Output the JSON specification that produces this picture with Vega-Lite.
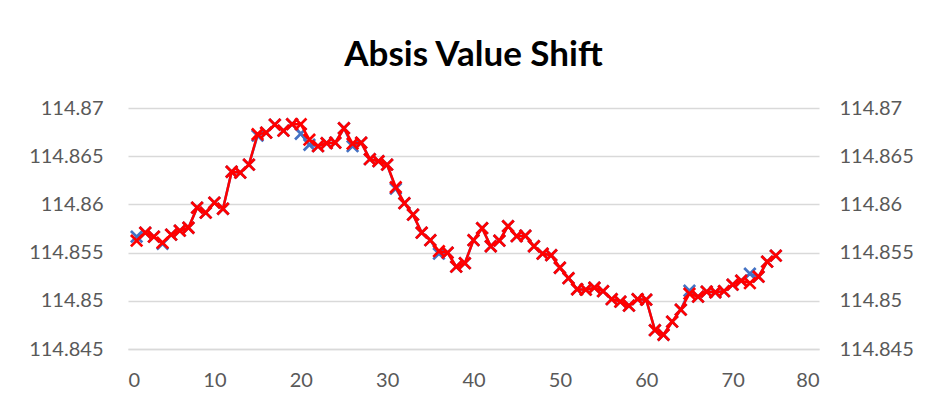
{
  "$schema": "https://vega.github.io/schema/vega-lite/v6.json",
  "width": 691,
  "height": 241,
  "autosize": {"type": "none"},
  "padding": {"left": 128, "top": 108, "right": 106, "bottom": 58},
  "background": "white",
  "title": {"text": "Absis Value Shift", "font": "Lato", "fontSize": 35, "fontWeight": "bold", "color": "#000000", "anchor": "middle", "offset": 25},
  "datasets": {
    "blue": [
      {"x": 1, "y": 114.85665}, {"x": 2, "y": 114.85707}, {"x": 3, "y": 114.85665}, {"x": 4, "y": 114.85592}, {"x": 5, "y": 114.85686},
      {"x": 6, "y": 114.85727}, {"x": 7, "y": 114.85758}, {"x": 8, "y": 114.85966}, {"x": 9, "y": 114.85914}, {"x": 10, "y": 114.86018},
      {"x": 11, "y": 114.85955}, {"x": 12, "y": 114.86339}, {"x": 13, "y": 114.86329}, {"x": 14, "y": 114.86412}, {"x": 15, "y": 114.86713},
      {"x": 16, "y": 114.86744}, {"x": 17, "y": 114.86827}, {"x": 18, "y": 114.86765}, {"x": 19, "y": 114.86832}, {"x": 20, "y": 114.86733},
      {"x": 21, "y": 114.86619}, {"x": 22, "y": 114.86604}, {"x": 23, "y": 114.86635}, {"x": 24, "y": 114.8664}, {"x": 25, "y": 114.8679},
      {"x": 26, "y": 114.86604}, {"x": 27, "y": 114.8664}, {"x": 28, "y": 114.86469}, {"x": 29, "y": 114.86448}, {"x": 30, "y": 114.86412},
      {"x": 31, "y": 114.86163}, {"x": 32, "y": 114.86013}, {"x": 33, "y": 114.85893}, {"x": 34, "y": 114.85707}, {"x": 35, "y": 114.85629},
      {"x": 36, "y": 114.85489}, {"x": 37, "y": 114.85499}, {"x": 38, "y": 114.85354}, {"x": 39, "y": 114.8539}, {"x": 40, "y": 114.85629},
      {"x": 41, "y": 114.85753}, {"x": 42, "y": 114.85566}, {"x": 43, "y": 114.85624}, {"x": 44, "y": 114.85774}, {"x": 45, "y": 114.8567},
      {"x": 46, "y": 114.85675}, {"x": 47, "y": 114.85566}, {"x": 48, "y": 114.85489}, {"x": 49, "y": 114.85473}, {"x": 50, "y": 114.85343},
      {"x": 51, "y": 114.85235}, {"x": 52, "y": 114.8512}, {"x": 53, "y": 114.85115}, {"x": 54, "y": 114.85136}, {"x": 55, "y": 114.851},
      {"x": 56, "y": 114.85017}, {"x": 57, "y": 114.84991}, {"x": 58, "y": 114.84949}, {"x": 59, "y": 114.85017}, {"x": 60, "y": 114.85012},
      {"x": 61, "y": 114.84695}, {"x": 62, "y": 114.84648}, {"x": 63, "y": 114.84783}, {"x": 64, "y": 114.84908}, {"x": 65, "y": 114.85105},
      {"x": 66, "y": 114.85043}, {"x": 67, "y": 114.85095}, {"x": 68, "y": 114.85089}, {"x": 69, "y": 114.851}, {"x": 70, "y": 114.85167},
      {"x": 71, "y": 114.85209}, {"x": 72, "y": 114.85281}, {"x": 73, "y": 114.8525}, {"x": 74, "y": 114.85406}, {"x": 75, "y": 114.85468}
    ],
    "red": [
      {"x": 1, "y": 114.85624}, {"x": 2, "y": 114.85707}, {"x": 3, "y": 114.85665}, {"x": 4, "y": 114.85603}, {"x": 5, "y": 114.85686},
      {"x": 6, "y": 114.85727}, {"x": 7, "y": 114.85758}, {"x": 8, "y": 114.85966}, {"x": 9, "y": 114.85914}, {"x": 10, "y": 114.86018},
      {"x": 11, "y": 114.85955}, {"x": 12, "y": 114.86339}, {"x": 13, "y": 114.86329}, {"x": 14, "y": 114.86412}, {"x": 15, "y": 114.86728},
      {"x": 16, "y": 114.86744}, {"x": 17, "y": 114.86827}, {"x": 18, "y": 114.86765}, {"x": 19, "y": 114.86832}, {"x": 20, "y": 114.86832},
      {"x": 21, "y": 114.86671}, {"x": 22, "y": 114.86604}, {"x": 23, "y": 114.86635}, {"x": 24, "y": 114.8664}, {"x": 25, "y": 114.8679},
      {"x": 26, "y": 114.8663}, {"x": 27, "y": 114.8664}, {"x": 28, "y": 114.86469}, {"x": 29, "y": 114.86448}, {"x": 30, "y": 114.86412},
      {"x": 31, "y": 114.86178}, {"x": 32, "y": 114.86013}, {"x": 33, "y": 114.85893}, {"x": 34, "y": 114.85707}, {"x": 35, "y": 114.85629},
      {"x": 36, "y": 114.85515}, {"x": 37, "y": 114.85499}, {"x": 38, "y": 114.85354}, {"x": 39, "y": 114.8539}, {"x": 40, "y": 114.85629},
      {"x": 41, "y": 114.85753}, {"x": 42, "y": 114.85566}, {"x": 43, "y": 114.85624}, {"x": 44, "y": 114.85774}, {"x": 45, "y": 114.8567},
      {"x": 46, "y": 114.85675}, {"x": 47, "y": 114.85566}, {"x": 48, "y": 114.85489}, {"x": 49, "y": 114.85473}, {"x": 50, "y": 114.85343},
      {"x": 51, "y": 114.85235}, {"x": 52, "y": 114.8512}, {"x": 53, "y": 114.85115}, {"x": 54, "y": 114.85136}, {"x": 55, "y": 114.851},
      {"x": 56, "y": 114.85017}, {"x": 57, "y": 114.84991}, {"x": 58, "y": 114.84949}, {"x": 59, "y": 114.85017}, {"x": 60, "y": 114.85012},
      {"x": 61, "y": 114.84695}, {"x": 62, "y": 114.84648}, {"x": 63, "y": 114.84783}, {"x": 64, "y": 114.84908}, {"x": 65, "y": 114.85074},
      {"x": 66, "y": 114.85043}, {"x": 67, "y": 114.85095}, {"x": 68, "y": 114.85089}, {"x": 69, "y": 114.851}, {"x": 70, "y": 114.85167},
      {"x": 71, "y": 114.85209}, {"x": 72, "y": 114.85183}, {"x": 73, "y": 114.8525}, {"x": 74, "y": 114.85406}, {"x": 75, "y": 114.85468}
    ]
  },
  "layer": [
    {
      "data": {"name": "blue"},
      "mark": {"type": "line", "color": "#4472C4", "strokeWidth": 2.5},
      "encoding": {
        "x": {"field": "x", "type": "quantitative", "scale": {"domain": [0, 80], "nice": false},
              "axis": {"values": [0, 10, 20, 30, 40, 50, 60, 70, 80], "title": null, "grid": false, "ticks": false, "domain": true, "domainColor": "#d9d9d9", "domainWidth": 1.5, "labelFont": "Lato", "labelFontSize": 20, "labelColor": "#595959", "labelPadding": 21}},
        "y": {"field": "y", "type": "quantitative", "scale": {"domain": [114.845, 114.87], "nice": false, "zero": false},
              "axis": {"orient": "left", "values": [114.845, 114.85, 114.855, 114.86, 114.865, 114.87], "format": ".6~g", "title": null, "grid": true, "gridColor": "#d9d9d9", "gridWidth": 1.5, "ticks": false, "domain": false, "labelFont": "Lato", "labelFontSize": 20, "labelColor": "#595959", "labelPadding": 25}}
      }
    },
    {
      "data": {"name": "blue"},
      "mark": {"type": "point", "shape": "M-1,-1L1,1M-1,1L1,-1", "filled": false, "color": "#4472C4", "size": 130, "strokeWidth": 2.7, "opacity": 1},
      "encoding": {
        "x": {"field": "x", "type": "quantitative"},
        "y": {"field": "y", "type": "quantitative", "axis": null}
      }
    },
    {
      "data": {"name": "red"},
      "mark": {"type": "line", "color": "#FF0000", "strokeWidth": 2.5},
      "encoding": {
        "x": {"field": "x", "type": "quantitative"},
        "y": {"field": "y", "type": "quantitative", "axis": null}
      }
    },
    {
      "data": {"name": "red"},
      "mark": {"type": "point", "shape": "M-1,-1L1,1M-1,1L1,-1", "filled": false, "color": "#FF0000", "size": 130, "strokeWidth": 2.7, "opacity": 1},
      "encoding": {
        "x": {"field": "x", "type": "quantitative"},
        "y": {"field": "y", "type": "quantitative", "scale": {"domain": [114.845, 114.87], "nice": false, "zero": false},
              "axis": {"orient": "right", "values": [114.845, 114.85, 114.855, 114.86, 114.865, 114.87], "format": ".6~g", "title": null, "grid": false, "ticks": false, "domain": false, "labelFont": "Lato", "labelFontSize": 20, "labelColor": "#595959", "labelPadding": 20}}
      }
    }
  ],
  "resolve": {"axis": {"y": "independent"}},
  "config": {"view": {"stroke": null}}
}
